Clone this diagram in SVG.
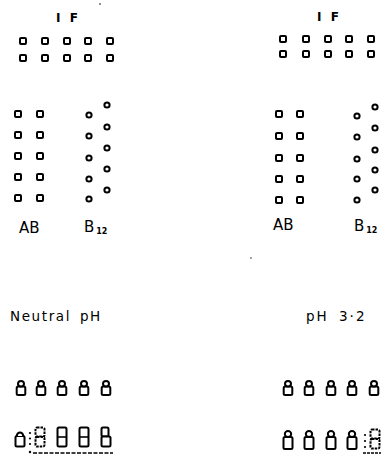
<svg xmlns="http://www.w3.org/2000/svg" width="385" height="459" viewBox="0 0 385 459">
<style>
.s{fill:#fff;stroke:#000;stroke-width:2}
.d{fill:#fff;stroke:#000;stroke-width:2;stroke-dasharray:2.5 1}
.t{font-family:"DejaVu Sans","Liberation Sans",sans-serif;fill:#000}
</style>
<defs>
<rect id="sq" x="-3" y="-3" width="6" height="6" rx="1" class="s"/>
<circle id="ci" r="2.6" class="s"/>
<g id="bead"><rect x="-4.3" y="-1.5" width="8.6" height="8.5" rx="1.5" class="s"/><ellipse cx="0" cy="-4.3" rx="3" ry="2.8" class="s"/></g>
<g id="beadT"><rect x="-4.5" y="-3" width="9" height="12" rx="1.5" class="s"/><ellipse cx="0" cy="-6" rx="3.2" ry="3" class="s"/></g>
<g id="tall"><rect x="-4.5" y="-9.5" width="9" height="19" rx="1.5" class="s"/><line x1="-4.5" y1="0" x2="4.5" y2="0" stroke="#000" stroke-width="1.6"/></g>
<g id="tallD"><rect x="-4.5" y="-9.5" width="9" height="9" rx="1.5" class="d"/><rect x="-4.5" y="0" width="9" height="9.5" rx="1.5" class="d"/></g>
<g id="bShape"><rect x="-4.5" y="-9.5" width="7" height="9" rx="1.5" class="s"/><rect x="-4.5" y="-0.5" width="9" height="10" rx="1.5" class="s"/></g>
<g id="aShape"><rect x="-4.5" y="-1" width="9" height="10.5" rx="1.5" class="s"/><path d="M-3.2,-1 A3.2,3.6 0 0 1 3.2,-1" class="s"/></g>
</defs>

<g id="panel-left-top">
<text class="t" x="56" y="22" font-size="12" font-weight="bold" word-spacing="5">I F</text>
<use href="#sq" x="23" y="41"/><use href="#sq" x="45" y="41"/><use href="#sq" x="67" y="41"/><use href="#sq" x="88" y="41"/><use href="#sq" x="110" y="41"/>
<use href="#sq" x="23" y="58"/><use href="#sq" x="45" y="58"/><use href="#sq" x="67" y="58"/><use href="#sq" x="88" y="58"/><use href="#sq" x="110" y="58"/>
</g>

<g id="panel-right-top">
<text class="t" x="317" y="21" font-size="12" font-weight="bold" word-spacing="5">I F</text>
<use href="#sq" x="283" y="39"/><use href="#sq" x="306" y="39"/><use href="#sq" x="328" y="39"/><use href="#sq" x="349" y="39"/><use href="#sq" x="371" y="39"/>
<use href="#sq" x="283" y="54"/><use href="#sq" x="306" y="54"/><use href="#sq" x="328" y="54"/><use href="#sq" x="349" y="54"/><use href="#sq" x="371" y="54"/>
</g>

<g id="left-AB">
<use href="#sq" x="18" y="114"/><use href="#sq" x="40" y="114"/>
<use href="#sq" x="18" y="135"/><use href="#sq" x="40" y="135"/>
<use href="#sq" x="18" y="156"/><use href="#sq" x="40" y="156"/>
<use href="#sq" x="18" y="177"/><use href="#sq" x="40" y="177"/>
<use href="#sq" x="18" y="198"/><use href="#sq" x="40" y="198"/>
<text class="t" x="19" y="233" font-size="15">AB</text>
</g>

<g id="left-B12">
<use href="#ci" x="89" y="115"/><use href="#ci" x="89" y="136"/><use href="#ci" x="89" y="158"/><use href="#ci" x="89" y="179"/><use href="#ci" x="89" y="199"/>
<use href="#ci" x="107" y="105"/><use href="#ci" x="107" y="127"/><use href="#ci" x="107" y="148"/><use href="#ci" x="107" y="169"/><use href="#ci" x="107" y="190"/>
<text class="t" x="84" y="232" font-size="15">B<tspan font-size="8" font-weight="bold" dx="2" dy="2">12</tspan></text>
</g>

<g id="right-AB">
<use href="#sq" x="279" y="114"/><use href="#sq" x="300" y="114"/>
<use href="#sq" x="279" y="136"/><use href="#sq" x="300" y="136"/>
<use href="#sq" x="279" y="158"/><use href="#sq" x="300" y="158"/>
<use href="#sq" x="279" y="179"/><use href="#sq" x="300" y="179"/>
<use href="#sq" x="279" y="200"/><use href="#sq" x="300" y="200"/>
<text class="t" x="273" y="230" font-size="15">AB</text>
</g>

<g id="right-B12">
<use href="#ci" x="357" y="116"/><use href="#ci" x="357" y="137"/><use href="#ci" x="357" y="159"/><use href="#ci" x="357" y="179"/><use href="#ci" x="357" y="200"/>
<use href="#ci" x="375" y="107"/><use href="#ci" x="375" y="128"/><use href="#ci" x="375" y="150"/><use href="#ci" x="375" y="170"/><use href="#ci" x="375" y="190"/>
<text class="t" x="354" y="231" font-size="15">B<tspan font-size="8" font-weight="bold" dx="2" dy="2">12</tspan></text>
</g>

<g id="noise">
<circle cx="100" cy="4" r="0.8" fill="#000"/>
<circle cx="251" cy="258" r="0.7" fill="#000"/>
</g>

<g id="neutral">
<text class="t" x="10" y="321" font-size="13.5" letter-spacing="1.6" word-spacing="3">Neutral pH</text>
<use href="#bead" x="21" y="388"/><use href="#bead" x="41" y="388"/><use href="#bead" x="62" y="388"/><use href="#bead" x="84" y="388"/><use href="#bead" x="106" y="388"/>
<use href="#aShape" x="20" y="437"/>
<circle cx="30" cy="433" r="1.1" fill="#000"/><circle cx="30" cy="438.5" r="1.1" fill="#000"/><circle cx="30" cy="444" r="1.1" fill="#000"/>
<use href="#tallD" x="40" y="437"/>
<use href="#tall" x="62" y="437"/>
<use href="#tall" x="84" y="437"/>
<use href="#bShape" x="106" y="437"/>
<circle cx="30" cy="452" r="1.2" fill="#000"/>
<line x1="33" y1="453" x2="113" y2="453" stroke="#000" stroke-width="1.6" stroke-dasharray="4 1.5"/>
</g>

<g id="acid">
<text class="t" x="306" y="321" font-size="13.5" letter-spacing="2" word-spacing="4">pH 3·2</text>
<use href="#bead" x="288" y="388"/><use href="#bead" x="309" y="388"/><use href="#bead" x="331" y="388"/><use href="#bead" x="352" y="388"/><use href="#bead" x="374" y="388"/>
<use href="#beadT" x="288" y="440"/><use href="#beadT" x="309" y="440"/><use href="#beadT" x="331" y="440"/><use href="#beadT" x="352" y="440"/>
<circle cx="365" cy="435" r="1.1" fill="#000"/><circle cx="365" cy="441" r="1.1" fill="#000"/><circle cx="365" cy="447" r="1.1" fill="#000"/>
<use href="#tallD" x="375" y="439"/>
<line x1="363" y1="453" x2="381" y2="453" stroke="#000" stroke-width="1.6" stroke-dasharray="3 1"/>
</g>
</svg>
